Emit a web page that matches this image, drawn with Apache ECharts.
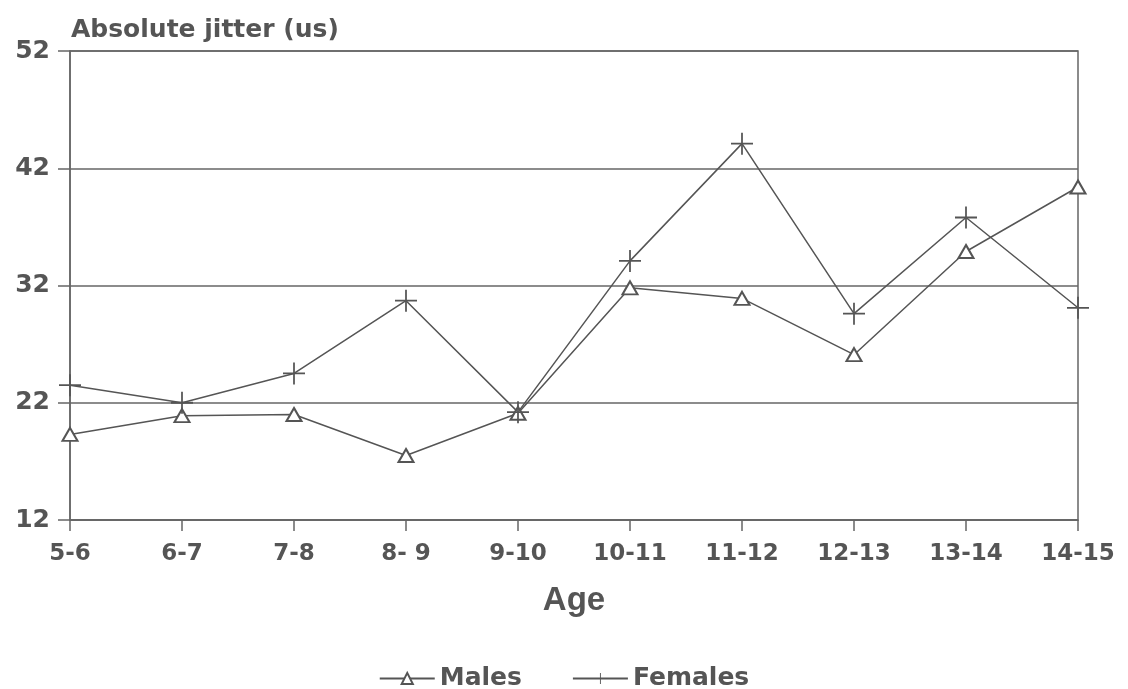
<!DOCTYPE html>
<html>
<head>
<meta charset="utf-8">
<script src="https://cdn.jsdelivr.net/npm/echarts@6/dist/echarts.min.js"></script>
<style>
  html, body { margin: 0; padding: 0; background: #fff; }
  #chart { width: 1128px; height: 689px; }
</style>
</head>
<body>
<div id="chart"></div>
<script>
const ageGroups = ['5-6', '6-7', '7-8', '8- 9', '9-10', '10-11', '11-12', '12-13', '13-14', '14-15']
const males = [19.3, 20.9, 21.0, 17.5, 21.1, 31.8, 30.9, 26.1, 34.9, 40.4]
const females = [23.5, 22.0, 24.5, 30.7, 21.2, 34.1, 44.1, 29.6, 37.8, 30.1]

const ink = '#555'
const font = 'DejaVu Sans'
const plusPath = 'path://M4.6,0H5.4V4.6H10V5.4H5.4V10H4.6V5.4H0V4.6H4.6Z'

const chart = echarts.init(document.getElementById('chart'))
chart.setOption({
  backgroundColor: '#fff',
  animation: false,
  title: {
    text: 'Absolute jitter (us)',
    left: 66,
    top: 13,
    textStyle: { color: ink, fontFamily: font, fontSize: 25, fontWeight: 'bold' }
  },
  legend: {
    top: 661,
    left: 'center',
    itemWidth: 55,
    itemHeight: 14,
    itemGap: 50,
    textStyle: { color: ink, fontFamily: font, fontSize: 25, fontWeight: 'bold' },
    data: ['Males', 'Females']
  },
  grid: {
    left: 70,
    right: 50,
    top: 51,
    bottom: 169,
    show: true,
    borderColor: '#666',
    borderWidth: 1.5
  },
  xAxis: {
    type: 'category',
    data: ageGroups,
    boundaryGap: false,
    name: 'Age',
    nameLocation: 'middle',
    nameGap: 64,
    nameTextStyle: { color: ink, fontFamily: 'Liberation Sans', fontSize: 33, fontWeight: 'bold' },
    axisLine: { lineStyle: { color: '#666', width: 1.5 } },
    axisTick: { show: true, length: 11, lineStyle: { color: '#666', width: 1.5 } },
    axisLabel: { color: ink, fontFamily: font, fontSize: 23, fontWeight: 'bold', margin: 23 },
    splitLine: { show: false }
  },
  yAxis: {
    type: 'value',
    min: 12,
    max: 52,
    interval: 10,
    axisLine: { show: true, lineStyle: { color: '#666', width: 1.5 } },
    axisTick: { show: true, length: 12, lineStyle: { color: '#666', width: 1.5 } },
    axisLabel: { color: ink, fontFamily: font, fontSize: 25, fontWeight: 'bold', margin: 20 },
    splitLine: { show: true, lineStyle: { color: '#666', width: 1.5 } }
  },
  series: [
    {
      name: 'Males',
      type: 'line',
      data: males,
      symbol: 'emptyTriangle',
      symbolSize: [15, 13],
      lineStyle: { color: ink, width: 1.5 },
      itemStyle: { color: ink, borderColor: ink, borderWidth: 1.8 }
    },
    {
      name: 'Females',
      type: 'line',
      data: females,
      symbol: plusPath,
      symbolSize: 22,
      lineStyle: { color: ink, width: 1.5 },
      itemStyle: { color: ink, borderWidth: 0 }
    }
  ]
})
</script>
</body>
</html>
